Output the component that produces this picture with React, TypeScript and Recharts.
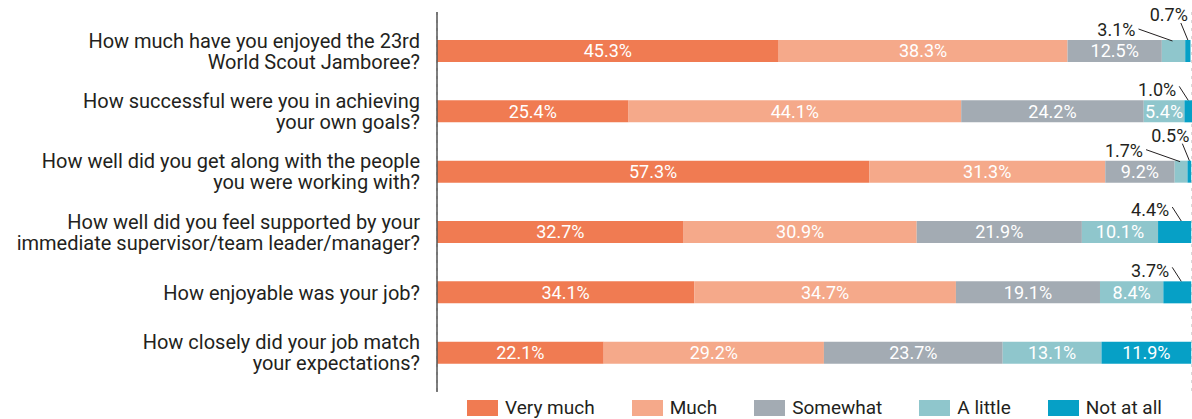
import React from 'react';
import { BarChart, Bar, XAxis, YAxis, CartesianGrid, LabelList, Legend } from 'recharts';

const categories = [
  'How much have you enjoyed the 23rd\nWorld Scout Jamboree?',
  'How successful were you in achieving\nyour own goals?',
  'How well did you get along with the people\nyou were working with?',
  'How well did you feel supported by your\nimmediate supervisor/team leader/manager?',
  'How enjoyable was your job?',
  'How closely did your job match\nyour expectations?',
];

const veryMuch = [45.3, 25.4, 57.3, 32.7, 34.1, 22.1];
const much = [38.3, 44.1, 31.3, 30.9, 34.7, 29.2];
const somewhat = [12.5, 24.2, 9.2, 21.9, 19.1, 23.7];
const aLittle = [3.1, 5.4, 1.7, 10.1, 8.4, 13.1];
const notAtAll = [0.7, 1.0, 0.5, 4.4, 3.7, 11.9];

const gridTicks = [0, 10, 20, 30, 40, 50, 60, 70, 80, 90];

const series = [
  { key: 'veryMuch', name: 'Very much', color: '#f07b52' },
  { key: 'much', name: 'Much', color: '#f5a98a' },
  { key: 'somewhat', name: 'Somewhat', color: '#a3abb3' },
  { key: 'aLittle', name: 'A little', color: '#8fc6cc' },
  { key: 'notAtAll', name: 'Not at all', color: '#06a0c6' },
];

const data = categories.map((name, i) => ({
  name,
  veryMuch: veryMuch[i],
  much: much[i],
  somewhat: somewhat[i],
  aLittle: aLittle[i],
  notAtAll: notAtAll[i],
}));

const FONT = 'Roboto, "DejaVu Sans", sans-serif';
const DARK = '#231f20';

const CategoryTick = (props: any) => {
  const { x, y, payload } = props;
  const lines = String(payload.value).split('\n');
  const start = -((lines.length - 1) * 21) / 2;
  return (
    <text x={x} y={y} textAnchor="end" fill={DARK} fontSize={20} fontFamily={FONT}>
      {lines.map((l, i) => (
        <tspan key={i} x={x} dy={i === 0 ? start + 7 : 21}>
          {l}
        </tspan>
      ))}
    </text>
  );
};

// small shares get a label above the bar with a short leader line
const makeLabel = (key: string) => (props: any) => {
  const { x, y, width, height, value, index } = props;
  const label = `${Number(value).toFixed(1)}%`;
  if (value >= 5) {
    return (
      <text x={x + width / 2} y={y + height / 2} dy="0.36em" textAnchor="middle" fill="#fff" fontSize={18} fontFamily={FONT}>
        {label}
      </text>
    );
  }
  if (key === 'aLittle') {
    const mid = x + width / 2;
    const textEnd = mid - 38;
    return (
      <g>
        <text x={textEnd} y={y - 10} dy="0.36em" textAnchor="end" fill={DARK} fontSize={18} fontFamily={FONT}>
          {label}
        </text>
        <line x1={textEnd + 3} y1={y - 11} x2={mid - 1} y2={y + 1} stroke={DARK} strokeWidth={1} />
      </g>
    );
  }
  const lineEnd = Math.max(x + width / 2, x + width - 10);
  const raised = aLittle[index] < 5;
  const textEnd = raised ? lineEnd : lineEnd - 12;
  const textY = raised ? y - 25 : y - 11;
  return (
    <g>
      <text x={textEnd} y={textY} dy="0.36em" textAnchor="end" fill={DARK} fontSize={18} fontFamily={FONT}>
        {label}
      </text>
      <line
        x1={raised ? lineEnd - 7 : lineEnd - 9}
        y1={raised ? y - 17 : y - 14}
        x2={lineEnd}
        y2={y}
        stroke={DARK}
        strokeWidth={1}
      />
    </g>
  );
};

const renderLegend = () => (
  <div
    style={{
      display: 'flex',
      justifyContent: 'center',
      alignItems: 'center',
      gap: 37,
      fontFamily: FONT,
      fontSize: 19,
      lineHeight: '18px',
      height: 18,
      color: DARK,
    }}
  >
    {series.map((s) => (
      <div key={s.key} style={{ display: 'flex', alignItems: 'center' }}>
        <span style={{ display: 'inline-block', width: 31, height: 16, background: s.color, marginRight: 7 }} />
        <span>{s.name}</span>
      </div>
    ))}
  </div>
);

export default function App() {
  return (
    <div style={{ width: 1192, height: 419, background: '#fff' }}>
      <style>{'body{margin:0;}'}</style>
      <BarChart
        width={1192}
        height={419}
        data={data}
        layout="vertical"
        margin={{ top: 12, right: 0, bottom: 27, left: 0 }}
        barSize={22}
      >
        <CartesianGrid horizontal={false} stroke="#b0b0b0" strokeDasharray="3 5" />
        <XAxis type="number" domain={[0, 100]} ticks={gridTicks} tick={false} axisLine={false} tickLine={false} height={0} />
        <YAxis
          type="category"
          dataKey="name"
          width={437}
          tick={<CategoryTick />}
          tickLine={false}
          tickSize={17}
          tickMargin={0}
          axisLine={{ stroke: '#555', strokeWidth: 1.5 }}
          padding={{ top: 9, bottom: 9 }}
          interval={0}
        />
        <Legend
          layout="horizontal"
          verticalAlign="middle"
          align="center"
          content={renderLegend}
          wrapperStyle={{ top: 399, left: 437, width: 755 }}
        />
        {series.map((s) => (
          <Bar key={s.key} dataKey={s.key} name={s.name} stackId="a" fill={s.color} isAnimationActive={false}>
            <LabelList dataKey={s.key} content={makeLabel(s.key)} />
          </Bar>
        ))}
      </BarChart>
    </div>
  );
}
